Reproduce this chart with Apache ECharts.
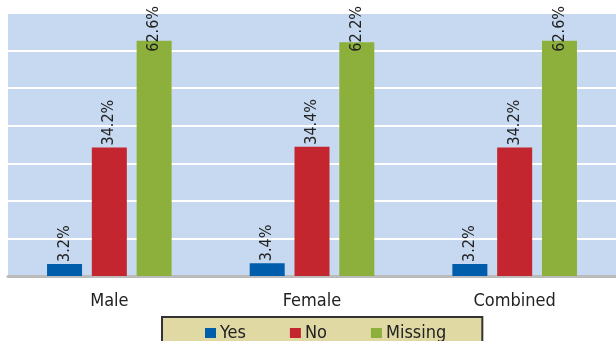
<!DOCTYPE html>
<html>
<head>
<meta charset="utf-8">
<script src="https://cdn.jsdelivr.net/npm/echarts@6/dist/echarts.min.js"></script>
<style>
  html, body { margin: 0; padding: 0; background: #fff; }
  #chart { width: 616px; height: 341px; }
</style>
</head>
<body>
<div id="chart"></div>
<script>
const categories = ['Male', 'Female', 'Combined']
const yesValues = [3.2, 3.4, 3.2]
const noValues = [34.2, 34.4, 34.2]
const missingValues = [62.6, 62.2, 62.6]

const font = '"DejaVu Sans Condensed", sans-serif'
const labelDistance = 2
const topLimit = 6

const chart = echarts.init(document.getElementById('chart'))

const barLabel = {
  show: true,
  position: 'top',
  rotate: 90,
  align: 'left',
  verticalAlign: 'middle',
  distance: labelDistance,
  color: '#222',
  fontFamily: font,
  fontSize: 16,
  formatter: p => p.value.toFixed(1) + '%'
}

const makeSeries = (name, data, color) => ({
  name,
  type: 'bar',
  data,
  barWidth: 35,
  barGap: '28%',
  itemStyle: { color },
  label: barLabel,
  // keep labels inside the canvas like the original (pushed down into the bar)
  labelLayout: params => {
    const over = topLimit - params.labelRect.y
    if (over <= 0) return {}
    return { y: params.rect.y - labelDistance + over }
  }
})

chart.setOption({
  animation: false,
  grid: {
    left: 8,
    right: -2,
    top: 13,
    bottom: 65,
    show: true,
    backgroundColor: '#c6d9f0',
    borderWidth: 0
  },
  legend: {
    left: 162,
    top: 317,
    padding: [7, 36, 10, 43],
    itemGap: 44,
    itemWidth: 11,
    itemHeight: 10,
    backgroundColor: '#e0d9a4',
    borderColor: '#333',
    borderWidth: 2,
    borderRadius: 0,
    textStyle: { fontFamily: font, fontSize: 18, color: '#222', padding: [0, 0, 0, -1] },
    data: [
      { name: 'Yes', icon: 'rect' },
      { name: 'No', icon: 'rect' },
      { name: 'Missing', icon: 'rect' }
    ]
  },
  xAxis: {
    type: 'category',
    data: categories,
    axisLine: { lineStyle: { color: '#bbb', width: 3 } },
    axisTick: { show: false },
    axisLabel: { color: '#222', fontFamily: font, fontSize: 18, margin: 16 }
  },
  yAxis: {
    type: 'value',
    min: 0,
    max: 70,
    interval: 10,
    axisLabel: { show: false },
    axisLine: { show: false },
    axisTick: { show: false },
    splitLine: { lineStyle: { color: '#fff', width: 2 } }
  },
  series: [
    makeSeries('Yes', yesValues, '#005dac'),
    makeSeries('No', noValues, '#c4262f'),
    makeSeries('Missing', missingValues, '#8db03c')
  ]
})
</script>
</body>
</html>
